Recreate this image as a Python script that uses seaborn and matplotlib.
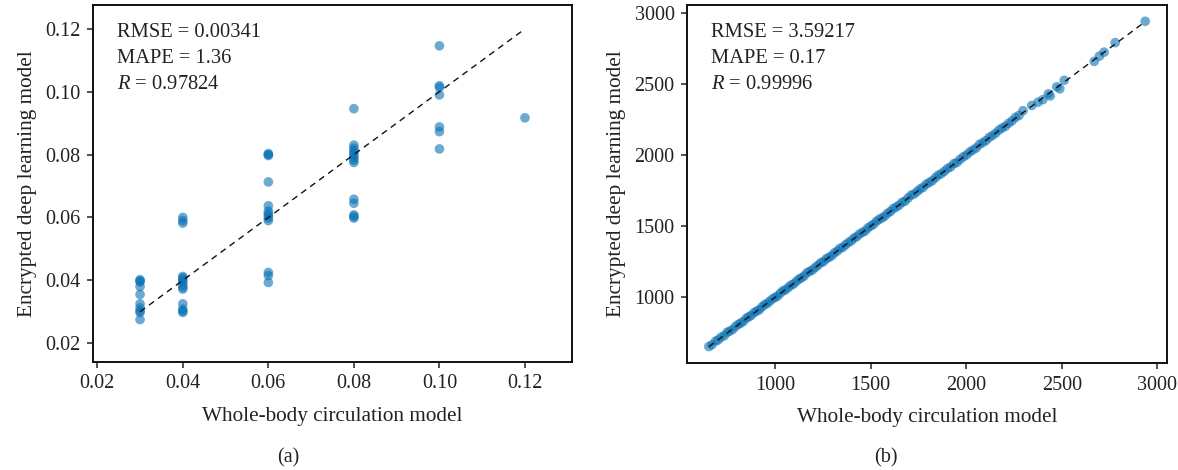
import matplotlib
matplotlib.use("Agg")
import matplotlib.pyplot as plt
import seaborn as sns
import pandas as pd

# (a) coarse-grid values
x_a = ([0.03] * 10 + [0.04] * 14 + [0.06] * 13 + [0.08] * 14 + [0.10] * 7 + [0.12])
y_a = [0.0402, 0.0398, 0.0395, 0.0380, 0.0355, 0.0325, 0.0312, 0.0302, 0.0298, 0.0275,
       0.0600, 0.0590, 0.0582, 0.0412, 0.0408, 0.0402, 0.0395, 0.0385, 0.0378, 0.0372,
       0.0325, 0.0308, 0.0302, 0.0298,
       0.0803, 0.0800, 0.0797, 0.0713, 0.0637, 0.0620, 0.0612, 0.0605, 0.0598, 0.0590,
       0.0425, 0.0415, 0.0393,
       0.0946, 0.0830, 0.0820, 0.0812, 0.0805, 0.0798, 0.0790, 0.0782, 0.0775, 0.0658,
       0.0645, 0.0608, 0.0603, 0.0598,
       0.1146, 0.1019, 0.1014, 0.0990, 0.0888, 0.0873, 0.0818,
       0.0917]

# (b) fine-grid values
x_b = [652, 668, 687, 701, 716, 733, 748, 760, 776, 791, 806, 819, 833, 848, 861, 874,
       889, 903, 917, 930, 944, 958, 971, 986, 1000, 1013, 1027, 1041, 1054, 1069, 1082,
       1096, 1110, 1124, 1137, 1151, 1166, 1180, 1194, 1209, 1223, 1238, 1252, 1267, 1281,
       1296, 1310, 1325, 1339, 1354, 1368, 1383, 1398, 1412, 1427, 1441, 1456, 1471, 1485,
       1500, 1514, 1529, 1544, 1558, 1573, 1588, 1603, 1618, 1633, 1649, 1664, 1679, 1695,
       1711, 1727, 1743, 1758, 1774, 1790, 1806, 1822, 1838, 1853, 1869, 1885, 1902, 1918,
       1935, 1951, 1968, 1985, 2002, 2018, 2035, 2052, 2069, 2086, 2103, 2120, 2137, 2154,
       2171, 2188, 2205, 2222, 2240, 2258, 2276, 2297, 2343, 2376, 2401, 2430, 2440, 2474,
       2490, 2513, 2670, 2697, 2722, 2780, 2937]
y_b = [653, 666, 691, 700, 719, 730, 753, 761, 772, 793, 809, 818, 830, 852, 862, 872,
       892, 903, 912, 932, 948, 956, 972, 989, 999, 1009, 1029, 1046, 1052, 1069, 1085,
       1093, 1111, 1128, 1136, 1149, 1172, 1182, 1191, 1209, 1224, 1242, 1250, 1270, 1280,
       1292, 1312, 1325, 1344, 1351, 1369, 1385, 1396, 1416, 1426, 1444, 1456, 1466, 1487,
       1501, 1512, 1533, 1547, 1557, 1570, 1590, 1603, 1623, 1634, 1647, 1667, 1675, 1697,
       1717, 1726, 1743, 1761, 1772, 1794, 1807, 1819, 1840, 1858, 1868, 1885, 1905, 1916,
       1939, 1947, 1969, 1987, 2001, 2021, 2035, 2049, 2074, 2087, 2101, 2123, 2137, 2153,
       2175, 2190, 2202, 2223, 2240, 2264, 2278, 2311, 2348, 2371, 2389, 2430, 2415, 2479,
       2465, 2525, 2658, 2695, 2723, 2790, 2940]

stats_a = ["RMSE = 0.00341", "MAPE = 1.36", "0.97824"]
stats_b = ["RMSE = 3.59217", "MAPE = 0.17", "0.99996"]

sns.set_style("ticks")
plt.rcParams["font.family"] = ["Liberation Serif", "DejaVu Serif"]
plt.rcParams["mathtext.fontset"] = "custom"
plt.rcParams["mathtext.it"] = "Liberation Serif:italic"
plt.rcParams["mathtext.rm"] = "Liberation Serif"
plt.rcParams["text.color"] = "#222222"
plt.rcParams["axes.labelcolor"] = "#222222"
plt.rcParams["xtick.color"] = "#222222"
plt.rcParams["ytick.color"] = "#222222"

fs = 14.5
point_color = "#0a72b5"

fig = plt.figure(figsize=(11.78, 4.70), dpi=100)
ax1 = fig.add_axes([93 / 1178, 1 - 362 / 470, 479 / 1178, 357 / 470])
ax2 = fig.add_axes([687 / 1178, 1 - 363 / 470, 480 / 1178, 358 / 470])

panels = [
    (ax1, x_a, y_a, stats_a, (0.019, 0.131), (0.014, 0.1276), [0.02, 0.04, 0.06, 0.08, 0.10, 0.12], "{:.2f}"),
    (ax2, x_b, y_b, stats_b, None, None, [1000, 1500, 2000, 2500, 3000], "{:.0f}"),
]

for ax, xs, ys, stats, xlim, ylim, ticks, fmt in panels:
    df = pd.DataFrame({"x": xs, "y": ys})
    sns.scatterplot(data=df, x="x", y="y", ax=ax, color=point_color, alpha=0.6,
                    s=48, edgecolor="none", zorder=2)
    lo, hi = min(xs), max(xs)
    ax.plot([lo, hi], [lo, hi], color="#111111", linestyle=(0, (4.5, 3.5)), linewidth=1.0, zorder=3)
    if xlim:
        ax.set_xlim(*xlim)
        ax.set_ylim(*ylim)
    ax.set_xticks(ticks)
    ax.set_yticks(ticks)
    ax.set_xticklabels([fmt.format(t) for t in ticks])
    ax.set_yticklabels([fmt.format(t) for t in ticks])
    ax.tick_params(direction="out", length=4, width=1.1, labelsize=fs, pad=5)
    for sp in ax.spines.values():
        sp.set_visible(True)
        sp.set_linewidth(1.4)
        sp.set_color("#111111")
    ax.set_xlabel("Whole-body circulation model", fontsize=fs + 0.8, labelpad=10)
    ax.set_ylabel("Encrypted deep learning model", fontsize=fs + 0.8, labelpad=6)
    ax.text(0.05, 0.922, stats[0], transform=ax.transAxes, fontsize=fs + 0.3, va="center")
    ax.text(0.05, 0.850, stats[1], transform=ax.transAxes, fontsize=fs + 0.3, va="center")
    ax.text(0.05, 0.777, r"$\mathit{R}$ = " + stats[2], transform=ax.transAxes, fontsize=fs + 0.3, va="center")

fig.text(288 / 1178, 1 - 458 / 470, "(a)", fontsize=fs, ha="center", va="center")
fig.text(886 / 1178, 1 - 458 / 470, "(b)", fontsize=fs, ha="center", va="center")

fig.savefig("out.png", dpi=100)
